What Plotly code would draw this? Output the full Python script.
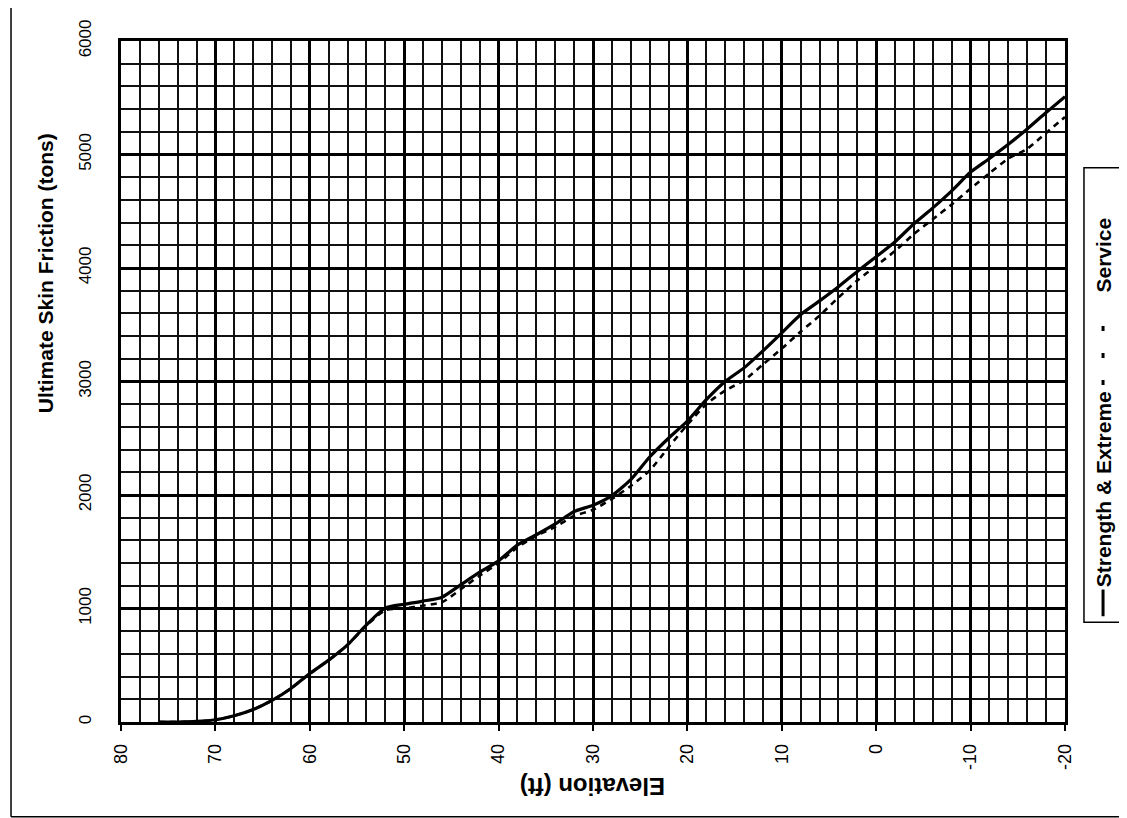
import plotly.graph_objects as go

elevation = [76, 74, 72, 70, 68, 66, 64, 62, 60, 58, 56, 54, 52, 50, 48, 46, 44, 42, 40,
             38, 36, 34, 32, 30, 28, 26, 24, 22, 20, 18, 16, 14, 12, 10, 8, 6, 4, 2, 0,
             -2, -4, -6, -8, -10, -12, -14, -16, -18, -20]

strength_extreme = [0, 0, 5, 20, 55, 110, 190, 295, 427, 545, 680, 855, 1005, 1037, 1065, 1100,
                    1210, 1320, 1420, 1560, 1650, 1745, 1855, 1910, 1995, 2135, 2335, 2500, 2652,
                    2840, 3000, 3120, 3270, 3429, 3590, 3710, 3835, 3970, 4100, 4232, 4390, 4530,
                    4680, 4845, 4965, 5090, 5225, 5370, 5510]

service = [0, 0, 5, 20, 55, 110, 190, 295, 427, 545, 680, 850, 985, 1000, 1025, 1055,
           1170, 1290, 1400, 1540, 1640, 1720, 1815, 1870, 1965, 2080, 2215, 2420, 2620,
           2800, 2920, 3010, 3150, 3290, 3440, 3580, 3740, 3890, 4020, 4150, 4300, 4430,
           4560, 4700, 4835, 4965, 5050, 5190, 5330]

x_ticks = [80, 70, 60, 50, 40, 30, 20, 10, 0, -10, -20]
y_ticks = [0, 1000, 2000, 3000, 4000, 5000, 6000]

FONT = "Liberation Sans, Arial, sans-serif"

fig = go.Figure()
fig.add_trace(go.Scatter(x=elevation, y=strength_extreme, mode="lines", name="Strength & Extreme",
                         line=dict(color="black", width=3.2, shape="spline", smoothing=0.6)))
fig.add_trace(go.Scatter(x=elevation, y=service, mode="lines", name="Service",
                         line=dict(color="black", width=2.6, dash="6px,5px", shape="spline", smoothing=0.6)))

fig.update_xaxes(range=[80, -20], tickvals=x_ticks, ticktext=[str(v) for v in x_ticks],
                 tickangle=-90, tickfont=dict(family=FONT, size=18, color="black"),
                 showgrid=True, gridcolor="black", gridwidth=3,
                 minor=dict(dtick=2, showgrid=True, gridcolor="#111", gridwidth=1.6,
                            ticks=""),
                 showline=True, linecolor="black", linewidth=2.5, mirror=True,
                 ticks="outside", ticklen=6, tickcolor="black", tickwidth=1.5,
                 zeroline=False, ticklabelstandoff=6)
fig.update_yaxes(range=[0, 6000], tickvals=y_ticks, ticktext=[str(v) for v in y_ticks],
                 tickangle=-90, tickfont=dict(family=FONT, size=17, color="black"),
                 showgrid=True, gridcolor="black", gridwidth=3,
                 minor=dict(dtick=200, showgrid=True, gridcolor="#111", gridwidth=1.6),
                 showline=True, linecolor="black", linewidth=2.5, mirror=True,
                 ticks="", zeroline=False, ticklabelstandoff=20)

annotations = [
    dict(text="<b>Ultimate Skin Friction (tons)</b>", xref="paper", yref="paper",
         x=-0.0805, y=0.659, xanchor="center", yanchor="middle", showarrow=False, textangle=-90,
         font=dict(family=FONT, size=21, color="black")),
    dict(text="<b>Elevation (ft)</b>", xref="paper", yref="paper",
         x=0.5, y=-0.0945, xanchor="center", yanchor="middle", showarrow=False, textangle=180,
         font=dict(family=FONT, size=24, color="black")),
    dict(text="<b>Strength &amp; Extreme</b>", xref="paper", yref="paper",
         x=1.0403, y=0.3418, xanchor="center", yanchor="middle", showarrow=False, textangle=-90,
         font=dict(family=FONT, size=21, color="black")),
    dict(text="<b>Service</b>", xref="paper", yref="paper",
         x=1.0403, y=0.685, xanchor="center", yanchor="middle", showarrow=False, textangle=-90,
         font=dict(family=FONT, size=21, color="black")),
]

shapes = [
    # legend box
    dict(type="rect", xref="paper", yref="paper", x0=1.0201, x1=1.0593, y0=0.1466, y1=0.814,
         line=dict(color="black", width=1.5), fillcolor="white", layer="below"),
    # legend samples
    dict(type="line", xref="paper", yref="paper", x0=1.0403, x1=1.0403, y0=0.1553, y1=0.1945,
         line=dict(color="black", width=3)),
    dict(type="line", xref="paper", yref="paper", x0=1.0403, x1=1.0403, y0=0.4949, y1=0.5864,
         line=dict(color="black", width=3, dash="5px,22px")),
    # outer frame
    dict(type="line", xref="paper", yref="paper", x0=-0.1165, x1=-0.1165, y0=-0.1393, y1=1.1,
         line=dict(color="black", width=1.5)),
    dict(type="line", xref="paper", yref="paper", x0=-0.1165, x1=1.0689, y0=-0.1393, y1=-0.1393,
         line=dict(color="black", width=1.5)),
    dict(type="line", xref="paper", yref="paper", x0=1.0689, x1=1.0689, y0=-0.1393, y1=1.1,
         line=dict(color="black", width=1.5)),
]

fig.update_layout(width=1127, height=818, autosize=False,
                  margin=dict(l=113, r=70, t=25, b=104),
                  paper_bgcolor="white", plot_bgcolor="white",
                  showlegend=False, annotations=annotations, shapes=shapes,
                  font=dict(family=FONT, color="black"))

fig.write_html("out.html")
